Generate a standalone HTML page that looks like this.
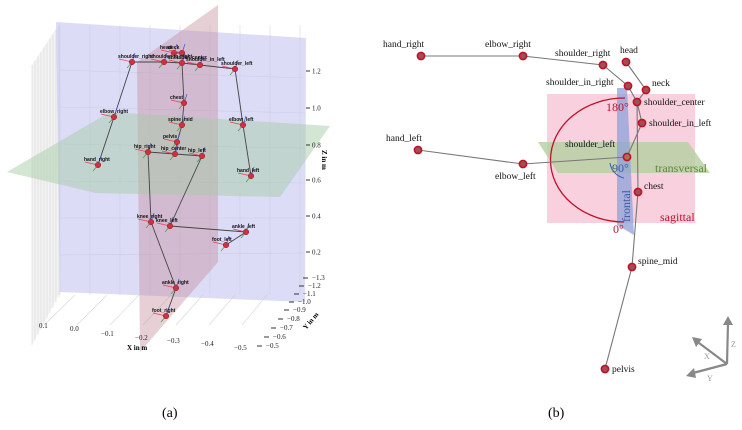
<!DOCTYPE html>
<html><head><meta charset="utf-8"><style>
body{margin:0;background:#fff;width:742px;height:425px;overflow:hidden}
svg{font-family:"Liberation Serif",serif}
</style></head><body>
<svg width="742" height="425" viewBox="0 0 742 425">
<g id="left">
 <g id="grid" stroke="#d8d8d8" stroke-width="0.6" fill="none"></g>
 <polygon points="56,22 306,38 305,302 60,292" fill="#c4c4f2" fill-opacity="0.6"/>
 <polygon points="137,62 218,5 218,262 140,352" fill="#c48a96" fill-opacity="0.4"/>
 <polygon points="7,172 110,112 330,126 280,197 96,193" fill="#a8cca8" fill-opacity="0.5"/>
 <g id="bones3d" stroke="#444" stroke-width="0.9"></g>
 <g id="joints3d"></g>
 <g id="zt" font-size="7" fill="#222"></g>
 <text x="322" y="150" font-size="7" font-weight="bold" transform="rotate(90 322 150)">Z in m</text>
 <text x="127" y="350" font-size="7" font-weight="bold">X in m</text>
 <text x="306" y="330" font-size="7" font-weight="bold" transform="rotate(-50 306 330)">Y in m</text>
 <text x="162" y="417" font-size="14">(a)</text>
</g>
<g id="right">
 <rect x="547" y="94" width="148" height="129" fill="#f7c6d6" fill-opacity="0.8"/>
 <polygon points="538,142 688,142 710,173 558,173" fill="#b4d0a0" fill-opacity="0.8"/>
 <polygon points="617,88 627,88 634,235 617,225" fill="#8da0d8" fill-opacity="0.75"/>
 <path d="M625,98 A74,62 0 0 0 624,222" stroke="#c0102a" stroke-width="1.3" fill="none"/>
 <path d="M610,163 A18,18 0 0 0 624,178" stroke="#3a5aa0" stroke-width="1" fill="none"/>
 <g id="bones2d" stroke="#777" stroke-width="1.1"></g>
 <g id="joints2d"></g>
 <text x="606" y="111" font-size="12" fill="#c0102a">180°</text>
 <text x="613" y="233" font-size="12" fill="#c0102a">0°</text>
 <text x="612" y="172" font-size="12" fill="#3a5aa0">90°</text>
 <text x="655" y="172" font-size="12" fill="#5a8a3a">transversal</text>
 <text x="660" y="221" font-size="12" fill="#c0102a">sagittal</text>
 <text x="630" y="222" font-size="12" fill="#3a5aa0" transform="rotate(-90 630 222)">frontal</text>
 <g stroke="#888" stroke-width="2.2" fill="#888">
  <line x1="727" y1="364" x2="728" y2="323"/><polygon points="723,325 733,325 728,316" stroke="none"/>
  <line x1="727" y1="364" x2="699" y2="343"/><polygon points="696,347 702,339 692,337" stroke="none"/>
  <line x1="727" y1="364" x2="693" y2="373"/><polygon points="694,368 696,378 686,376" stroke="none"/>
 </g>
 <text x="731" y="347" font-size="8" fill="#999">Z</text>
 <text x="704" y="359" font-size="8" fill="#999">X</text>
 <text x="707" y="381" font-size="8" fill="#999">Y</text>
 <text x="548" y="417" font-size="14">(b)</text>
</g>
</svg>
<script>
const NS="http://www.w3.org/2000/svg";
const j3Names=["head","neck","shoulder_in_right","shoulder_center","shoulder_in_left","shoulder_right","shoulder_left","chest","spine_mid","pelvis","hip_right","hip_center","hip_left","elbow_right","elbow_left","hand_right","hand_left","knee_right","knee_left","ankle_left","foot_left","ankle_right","foot_right"];
const j3X=[174,182,164,182,200,132,235,184,182,177,148,175,202,114,243,98,251,151,170,246,226,176,166];
const j3Y=[53,53,62,63,65,62,69,103,125,142,152,154,156,117,125,165,176,222,226,232,245,288,316];
const bones3=[["head","neck"],["neck","shoulder_center"],["shoulder_right","shoulder_in_right"],["shoulder_in_right","shoulder_center"],["shoulder_center","shoulder_in_left"],["shoulder_in_left","shoulder_left"],["shoulder_center","chest"],["chest","spine_mid"],["spine_mid","pelvis"],["pelvis","hip_center"],["hip_right","hip_center"],["hip_center","hip_left"],["shoulder_right","elbow_right"],["elbow_right","hand_right"],["shoulder_left","elbow_left"],["elbow_left","hand_left"],["hip_right","knee_right"],["hip_left","knee_left"],["knee_left","ankle_left"],["ankle_left","foot_left"],["knee_right","ankle_right"],["ankle_right","foot_right"]];
const zTicks=["1.2","1.0","0.8","0.6","0.4","0.2"];const zTickY=[71,108,145,180,216,252];
const xTicks=["0.1","0.0","−0.1","−0.2","−0.3","−0.4","−0.5"];const xTickX=[44,75,106,140,172,206,239];const xTickY=[328,331,336,340,343,346,350];
const yTicks=["−1.3","−1.2","−1.1","−1.0","−0.9","−0.8","−0.7","−0.6","−0.5"];const yTickX=[310,306,301,296,291,285,278,271,264];const yTickY=[280,288,296,304,312,321,330,339,348];
const j2Names=["hand_right","elbow_right","shoulder_right","head","shoulder_in_right","neck","shoulder_center","shoulder_in_left","shoulder_left","hand_left","elbow_left","chest","spine_mid","pelvis"];
const j2X=[421,523,603,626,628,646,637,642,627,418,523,638,632,605];
const j2Y=[56,56,65,62,86,90,102,123,157,150,164,192,267,369];
const bones2=[["hand_right","elbow_right"],["elbow_right","shoulder_right"],["shoulder_right","shoulder_in_right"],["shoulder_in_right","shoulder_center"],["head","neck"],["neck","shoulder_center"],["shoulder_center","shoulder_in_left"],["shoulder_in_left","shoulder_left"],["shoulder_left","elbow_left"],["elbow_left","hand_left"],["shoulder_center","chest"],["chest","spine_mid"],["spine_mid","pelvis"]];
const lab2dx=[-38,-38,-48,-6,-82,6,7,7,-62,-32,-28,6,6,7];
const lab2dy=[-9,-9,-9,-9,-1,-4,3,3,-10,-9,15,-3,-3,3];
function mk(t,a,p){const e=document.createElementNS(NS,t);for(const k in a)e.setAttribute(k,a[k]);p.appendChild(e);return e;}
const g=document.getElementById('grid');
mk('polygon',{points:"32,65 60,22 60,292 32,345",fill:"#f3f3f3",stroke:"none"},g);
for(let i=0;i<10;i++){const x=32+i*3;mk('line',{x1:x,y1:65-i*4.3,x2:x,y2:345-i*5.3},g);}
for(let i=0;i<9;i++){mk('line',{x1:60+i*30,y1:25,x2:60+i*30,y2:295},g);}
for(let i=0;i<7;i++){mk('line',{x1:44+i*33,y1:325,x2:75+i*32,y2:295},g);}
for(let i=0;i<6;i++){mk('line',{x1:60,y1:70+i*37,x2:305,y2:78+i*35},g);}
const i3=n=>j3Names.indexOf(n);
const bg3=document.getElementById('bones3d');
bones3.forEach(b=>{const a=i3(b[0]),c=i3(b[1]);const l=mk('line',{x1:j3X[a],y1:j3Y[a],x2:j3X[c],y2:j3Y[c]},bg3);

});
const jg3=document.getElementById('joints3d');
j3Names.forEach((n,i)=>{const x=j3X[i],y=j3Y[i];
mk('line',{x1:x-13,y1:y-3,x2:x,y2:y,stroke:"#e0405a","stroke-width":0.7},jg3);
mk('line',{x1:x,y1:y,x2:x+3,y2:y-9,stroke:"#4050d0","stroke-width":0.7},jg3);
mk('line',{x1:x,y1:y,x2:x-5,y2:y+6,stroke:"#40a040","stroke-width":0.7},jg3);
const c=mk('circle',{cx:x,cy:y,r:2.8,fill:"#d03040",stroke:"#902030","stroke-width":0.5},jg3);


const t=mk('text',{x:x-14,y:y-4,"font-size":5,"font-family":"Liberation Sans",fill:"#111","font-weight":"bold"},jg3);t.textContent=n;

});
const zt=document.getElementById('zt');
zTicks.forEach((s,i)=>{mk('line',{x1:306,y1:zTickY[i],x2:310,y2:zTickY[i],stroke:"#333"},zt);const t=mk('text',{x:312,y:zTickY[i]+2.5},zt);t.textContent=s;

});
xTicks.forEach((s,i)=>{const t=mk('text',{x:xTickX[i]-5,y:xTickY[i]},zt);t.textContent=s;

});
yTicks.forEach((s,i)=>{mk('line',{x1:yTickX[i]-7,y1:yTickY[i]-2,x2:yTickX[i]-2,y2:yTickY[i]-2,stroke:"#333"},zt);const t=mk('text',{x:yTickX[i]+2,y:yTickY[i]},zt);t.textContent=s;

});
const i2=n=>j2Names.indexOf(n);
const bg2=document.getElementById('bones2d');
bones2.forEach(b=>{const a=i2(b[0]),c=i2(b[1]);const l=mk('line',{x1:j2X[a],y1:j2Y[a],x2:j2X[c],y2:j2Y[c]},bg2);

});
const jg2=document.getElementById('joints2d');
j2Names.forEach((n,i)=>{const c=mk('circle',{cx:j2X[i],cy:j2Y[i],r:3.6,fill:n==="shoulder_left"?"#b07050":"#a05050",stroke:"#c0102a","stroke-width":1.6},jg2);


const t=mk('text',{x:j2X[i]+lab2dx[i],y:j2Y[i]+lab2dy[i],"font-size":9.5,fill:"#111"},jg2);t.textContent=n;

});
</script>
</body></html>
